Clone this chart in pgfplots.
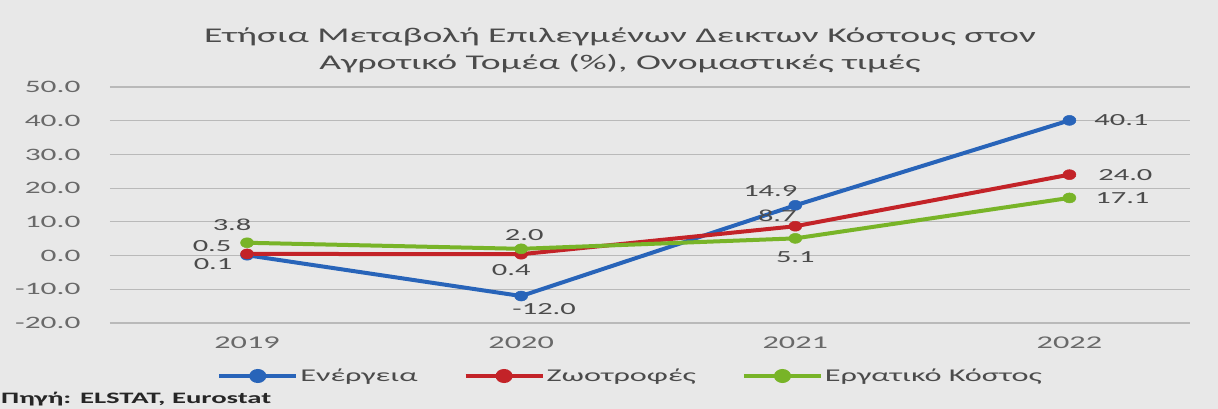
\documentclass[border=0pt]{standalone}
\usepackage{fontspec}
\setmainfont[FakeStretch=1.8]{Carlito}
\usepackage{pgfplots}
\usepackage{pgfplotstable}
\pgfplotsset{compat=1.18}

\definecolor{eblue}{RGB}{40,100,185}
\definecolor{ered}{RGB}{195,35,40}
\definecolor{egreen}{RGB}{120,180,40}
\definecolor{bg}{RGB}{232,232,232}
\definecolor{gridc}{RGB}{185,185,185}
\definecolor{txt}{RGB}{75,75,75}
\definecolor{ticktxt}{RGB}{105,105,105}

% x = 0..3 for 2019..2022; dx, dy move the value label (bp)
\pgfplotstableread{
x y lab dx dy
0 0.1 0.1 -34 -9
1 -12.0 -12.0 23 -13
2 14.9 14.9 -25 14
3 40.1 40.1 52 0
}\energy
\pgfplotstableread{
x y lab dx dy
0 0.5 0.5 -35 8
1 0.4 0.4 -10 -16
2 8.7 8.7 -18 10
3 24.0 24.0 56 0
}\feed
\pgfplotstableread{
x y lab dx dy
0 3.8 3.8 -15 18
1 2.0 2.0 3 14
2 5.1 5.1 0 -19
3 17.1 17.1 53 0
}\labour

\begin{document}
\begin{tikzpicture}
\fill[bg] (-110bp,-86bp) rectangle (1108bp,323bp);
\begin{axis}[
  at={(0,0)}, anchor=south west,
  scale only axis, width=1080bp, height=236bp,
  xmin=-0.5, xmax=3.44, ymin=-20, ymax=50,
  xtick={0,1,2,3}, xticklabels={2019,2020,2021,2022},
  ytick={-20,-10,0,10,20,30,40,50},
  yticklabels={-20.0,-10.0,0.0,10.0,20.0,30.0,40.0,50.0},
  yticklabel style={font=\fontsize{17.5}{17.5}\selectfont, text=ticktxt, xshift=-26bp},
  xticklabel style={font=\fontsize{18}{18}\selectfont, text=ticktxt, yshift=-10bp},
  ymajorgrids, grid style={gridc, line width=1.2bp},
  axis line style={draw=none}, major tick style={draw=none},
  clip=false,
  legend style={at={(axis description cs:0.482,-0.2246)}, anchor=center,
    draw=none, fill=none, legend columns=-1,
    font=\fontsize{18}{18}\selectfont, text=txt,
    nodes={inner xsep=2bp},
    /tikz/every even column/.append style={column sep=44bp}},
  legend image code/.code={
    \draw[line width=4bp,#1] (0bp,0bp) -- (77bp,0bp);
    \fill[#1] (38.5bp,0bp) ellipse (6.5bp and 5bp);},
  every axis plot/.append style={line width=4bp, mark=*, mark size=5bp,
    mark options={line width=0.5bp, xscale=1.3},
    nodes near coords, point meta=explicit symbolic,
    visualization depends on={\thisrow{dx}\as\dx},
    visualization depends on={\thisrow{dy}\as\dy},
    nodes near coords style={font=\fontsize{17}{17}\selectfont,
      text=txt, anchor=center, xshift=\dx bp, yshift=\dy bp}},
]
\addplot[eblue] table[x=x, y=y, meta=lab] {\energy};
\addplot[ered] table[x=x, y=y, meta=lab] {\feed};
\addplot[egreen] table[x=x, y=y, meta=lab] {\labour};
\legend{Ενέργεια, Ζωοτροφές, Εργατικό Κόστος}
\end{axis}
\node[align=center, text=txt, font=\fontsize{21}{27}\selectfont] at (510bp,272.5bp)
  {Ετήσια Μεταβολή Επιλεγμένων Δεικτων Κόστους στον\\Αγροτικό Τομέα (\%), Ονομαστικές τιμές};
\node[anchor=west, inner sep=0pt, font=\bfseries\fontsize{16}{16}\selectfont, text=black!85]
  at (-109bp,-76bp) {Πηγή: ELSTAT, Eurostat};
\end{tikzpicture}
\end{document}
